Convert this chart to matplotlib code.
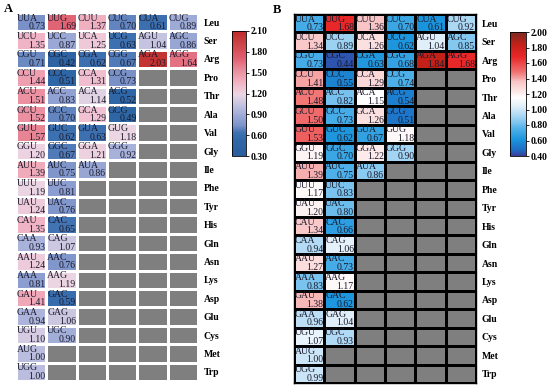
import numpy as np
import matplotlib
matplotlib.use('Agg')
import matplotlib.pyplot as plt
from matplotlib.colors import LinearSegmentedColormap

plt.rcParams['font.family'] = ['Liberation Serif', 'DejaVu Serif']

amino = ['Leu', 'Ser', 'Arg', 'Pro', 'Thr', 'Ala', 'Val', 'Gly', 'Ile', 'Phe',
         'Tyr', 'His', 'Gln', 'Asn', 'Lys', 'Asp', 'Glu', 'Cys', 'Met', 'Trp']

codons = [
    ['UUA', 'UUG', 'CUU', 'CUC', 'CUA', 'CUG'],
    ['UCU', 'UCC', 'UCA', 'UCG', 'AGU', 'AGC'],
    ['CGU', 'CGC', 'CGA', 'CGG', 'AGA', 'AGG'],
    ['CCU', 'CCC', 'CCA', 'CCG'],
    ['ACU', 'ACC', 'ACA', 'ACG'],
    ['GCU', 'GCC', 'GCA', 'GCG'],
    ['GUU', 'GUC', 'GUA', 'GUG'],
    ['GGU', 'GGC', 'GGA', 'GGG'],
    ['AUU', 'AUC', 'AUA'],
    ['UUU', 'UUC'],
    ['UAU', 'UAC'],
    ['CAU', 'CAC'],
    ['CAA', 'CAG'],
    ['AAU', 'AAC'],
    ['AAA', 'AAG'],
    ['GAU', 'GAC'],
    ['GAA', 'GAG'],
    ['UGU', 'UGC'],
    ['AUG'],
    ['UGG'],
]

rscu_a = [
    [0.73, 1.69, 1.37, 0.70, 0.61, 0.89],
    [1.35, 0.87, 1.25, 0.63, 1.04, 0.86],
    [0.71, 0.42, 0.62, 0.67, 2.03, 1.64],
    [1.44, 0.51, 1.31, 0.73],
    [1.51, 0.83, 1.14, 0.52],
    [1.52, 0.70, 1.29, 0.49],
    [1.57, 0.62, 0.63, 1.18],
    [1.20, 0.67, 1.21, 0.92],
    [1.39, 0.75, 0.86],
    [1.19, 0.81],
    [1.24, 0.76],
    [1.35, 0.65],
    [0.93, 1.07],
    [1.24, 0.76],
    [0.81, 1.19],
    [1.41, 0.59],
    [0.94, 1.06],
    [1.10, 0.90],
    [1.00],
    [1.00],
]

rscu_b = [
    [0.73, 1.68, 1.36, 0.70, 0.61, 0.92],
    [1.34, 0.89, 1.26, 0.62, 1.04, 0.85],
    [0.73, 0.44, 0.63, 0.68, 1.84, 1.68],
    [1.41, 0.55, 1.29, 0.74],
    [1.48, 0.82, 1.15, 0.54],
    [1.50, 0.73, 1.26, 0.51],
    [1.53, 0.62, 0.67, 1.18],
    [1.19, 0.70, 1.22, 0.90],
    [1.39, 0.75, 0.86],
    [1.17, 0.83],
    [1.20, 0.80],
    [1.34, 0.66],
    [0.94, 1.06],
    [1.27, 0.73],
    [0.83, 1.17],
    [1.38, 0.62],
    [0.96, 1.04],
    [1.07, 0.93],
    [1.00],
    [0.99],
]

ticks_a = [2.10, 1.80, 1.50, 1.20, 0.90, 0.60, 0.30]
ticks_b = [2.00, 1.80, 1.60, 1.40, 1.20, 1.00, 0.80, 0.60, 0.40]

cmap_a = LinearSegmentedColormap.from_list('a', [
    (0.00, '#2a5d9e'), (0.12, '#2f67a6'), (0.19, '#3f72b2'),
    (0.24, '#7b92c8'), (0.33, '#a0acd8'), (0.41, '#c4c4e0'),
    (0.49, '#ecd6e4'), (0.55, '#f0c2d2'), (0.63, '#f0a2b2'),
    (0.70, '#e88898'), (0.78, '#e06070'), (0.96, '#c43434'), (1.00, '#c02828')])
cmap_b = LinearSegmentedColormap.from_list('b', [
    (0.00, '#3a3c9c'), (0.05, '#1e6ec4'), (0.13, '#1a94dc'),
    (0.21, '#4aaee8'), (0.32, '#a8d6f4'), (0.40, '#e0eef9'),
    (0.47, '#ffffff'), (0.60, '#f8c4c4'), (0.68, '#f07070'),
    (0.80, '#e82828'), (0.90, '#c42018'), (1.00, '#7a2a20')])


def grid(vals):
    m = np.full((20, 6), np.nan)
    for i, row in enumerate(vals):
        m[i, :len(row)] = row
    return m


def panel(ax, cax, vals, cmap, vmin, vmax, ticks, edge):
    cm = cmap.copy()
    cm.set_bad('#7f7f7f')
    m = np.ma.masked_invalid(grid(vals))
    mesh = ax.pcolormesh(m, cmap=cm, vmin=vmin, vmax=vmax,
                         edgecolors=edge, linewidth=1.0)
    ax.set_xlim(0, 6)
    ax.set_ylim(20, 0)
    ax.set_xticks([])
    ax.yaxis.tick_right()
    ax.set_yticks(np.arange(20) + 0.5)
    ax.set_yticklabels(amino, fontsize=7, fontweight='bold')
    ax.tick_params(axis='y', length=0, pad=4)
    for s in ax.spines.values():
        s.set_visible(edge == 'black')
        s.set_linewidth(1.0)
    for i, row in enumerate(vals):
        for j, v in enumerate(row):
            ax.text(j + 0.03, i + 0.03, codons[i][j], ha='left', va='top',
                    fontsize=7, color='#1a1a2a')
            ax.text(j + 0.97, i + 0.99, '{:.2f}'.format(v), ha='right',
                    va='bottom', fontsize=7, color='#1a1a2a')
    cb = plt.colorbar(mesh, cax=cax, ticks=ticks)
    cb.outline.set_linewidth(0.6)
    cb.ax.tick_params(labelsize=7, length=2, width=0.6, pad=1)
    cb.ax.set_yticklabels(['{:.2f}'.format(t) for t in ticks], fontweight='bold')
    return mesh


fig = plt.figure(figsize=(5.5, 3.88), dpi=100)
W, H = 550, 388

ax_a = fig.add_axes([16 / W, 1 - 381 / H, 182 / W, 368 / H])
cax_a = fig.add_axes([232 / W, 1 - 156 / H, 14 / W, 125 / H])
ax_b = fig.add_axes([294 / W, 1 - 383 / H, 182 / W, 369 / H])
cax_b = fig.add_axes([510 / W, 1 - 156 / H, 16 / W, 124 / H])

panel(ax_a, cax_a, rscu_a, cmap_a, 0.30, 2.10, ticks_a, 'white')
panel(ax_b, cax_b, rscu_b, cmap_b, 0.40, 2.00, ticks_b, 'black')

fig.text(4 / W, 1 - 12 / H, 'A', fontsize=9, fontweight='bold')
fig.text(273 / W, 1 - 13 / H, 'B', fontsize=9, fontweight='bold')

fig.savefig('out.png', dpi=100)
